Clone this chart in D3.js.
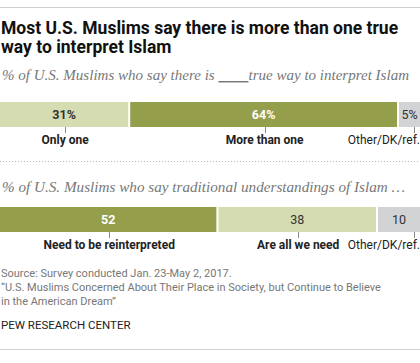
<!DOCTYPE html>
<html>
<head>
<meta charset="utf-8">
<script src="https://d3js.org/d3.v7.min.js"></script>
<style>
  body { margin: 0; background: #fff; }
  svg { display: block; }
</style>
</head>
<body>
<div id="chart"></div>
<script>
// Chart data
const trueWayCats = ['Only one', 'More than one', 'Other/DK/ref.'];
const trueWayVals = [31, 64, 5];
const tradCats = ['Need to be reinterpreted', 'Are all we need', 'Other/DK/ref.'];
const tradVals = [52, 38, 10];

const width = 420, height = 363;
const colors = { light: '#d6dcb1', dark: '#959e4b', gray: '#d2d3d5' };

const svg = d3.select('#chart').append('svg')
    .attr('width', width)
    .attr('height', height);

// top rule
svg.append('line').attr('x1', 0).attr('x2', width).attr('y1', 7.5).attr('y2', 7.5)
    .attr('stroke', '#cfcfcf').attr('stroke-width', 1);

// title
const title = svg.append('text')
    .attr('font-family', 'Roboto, sans-serif')
    .attr('font-weight', 'bold')
    .attr('font-size', 17.5)
    .attr('fill', '#111');
title.append('tspan').attr('x', 1).attr('y', 34).text('Most U.S. Muslims say there is more than one true');
title.append('tspan').attr('x', 1).attr('y', 53).text('way to interpret Islam');

const x = d3.scaleLinear().domain([0, 100]).range([0, width]);

function drawGroup(opts) {
    const g = svg.append('g');

    // subtitle
    const sub = g.append('text')
        .attr('x', 2).attr('y', opts.subY)
        .attr('font-family', '"Liberation Serif", serif')
        .attr('font-style', 'italic')
        .attr('font-size', 14.5)
        .attr('fill', '#777')
        .attr('textLength', opts.subWidth)
        .attr('lengthAdjust', 'spacingAndGlyphs');
    opts.subtitle.forEach(s => {
        const t = sub.append('tspan').text(s.text);
        if (s.underline) t.attr('text-decoration', 'underline');
    });

    // stack the values
    let acc = 0;
    const segs = opts.vals.map((v, i) => {
        const s = { start: acc, end: acc + v, val: v, cat: opts.cats[i], color: opts.colors[i], text: opts.textColors[i], bold: opts.bold[i] };
        acc += v;
        return s;
    });

    g.selectAll('rect.seg')
        .data(segs)
        .enter().append('rect')
        .attr('class', 'seg')
        .attr('x', d => x(d.start))
        .attr('y', opts.barY)
        .attr('width', (d, i) => x(d.end) - x(d.start) - (i < segs.length - 1 ? 2 : 0))
        .attr('height', 25)
        .attr('fill', d => d.color);

    g.selectAll('text.val')
        .data(segs)
        .enter().append('text')
        .attr('class', 'val')
        .attr('x', (d, i) => (x(d.start) + x(d.end) - (i < segs.length - 1 ? 2 : 0)) / 2)
        .attr('y', opts.barY + 17)
        .attr('text-anchor', 'middle')
        .attr('font-family', 'Roboto, sans-serif')
        .attr('font-size', 12.5)
        .attr('font-weight', d => d.bold ? 'bold' : 'normal')
        .attr('fill', d => d.text)
        .text(d => d.val + opts.suffix);

    // ticks and category labels
    const tickX = (d, i) => i === segs.length - 1 ? 414.5 : Math.round((x(d.start) + x(d.end)) / 2) + 0.5;
    g.selectAll('line.tick')
        .data(segs)
        .enter().append('line')
        .attr('class', 'tick')
        .attr('x1', tickX).attr('x2', tickX)
        .attr('y1', opts.barY + 25).attr('y2', opts.barY + 31)
        .attr('stroke', '#888').attr('stroke-width', 1);

    g.selectAll('text.cat')
        .data(segs)
        .enter().append('text')
        .attr('class', 'cat')
        .attr('x', (d, i) => i === segs.length - 1 ? width : (x(d.start) + x(d.end)) / 2)
        .attr('y', opts.barY + 42)
        .attr('text-anchor', (d, i) => i === segs.length - 1 ? 'end' : 'middle')
        .attr('font-family', 'Roboto, sans-serif')
        .attr('font-size', 12)
        .attr('font-weight', (d, i) => i === segs.length - 1 ? 'normal' : 'bold')
        .attr('fill', '#222')
        .text(d => d.cat);
}

drawGroup({
    subY: 80,
    subWidth: 407,
    subtitle: [{ text: '% of U.S. Muslims who say there is ' }, { text: '\u00a0\u00a0\u00a0\u00a0\u00a0\u00a0\u00a0\u00a0', underline: true }, { text: 'true way to interpret Islam' }],
    barY: 102,
    cats: trueWayCats,
    vals: trueWayVals,
    colors: [colors.light, colors.dark, colors.gray],
    textColors: ['#333', '#fff', '#333'],
    bold: [true, true, false],
    suffix: '%'
});

// dotted separator
svg.append('line').attr('x1', 0).attr('x2', width).attr('y1', 161.5).attr('y2', 161.5)
    .attr('stroke', '#bbb').attr('stroke-width', 1).attr('stroke-dasharray', '1,2');

drawGroup({
    subY: 192,
    subWidth: 403,
    subtitle: [{ text: '% of U.S. Muslims who say traditional understandings of Islam \u2026' }],
    barY: 207,
    cats: tradCats,
    vals: tradVals,
    colors: [colors.dark, colors.light, colors.gray],
    textColors: ['#fff', '#333', '#333'],
    bold: [true, false, false],
    suffix: ''
});

// footer
const foot = svg.append('text')
    .attr('font-family', 'Roboto, sans-serif')
    .attr('font-size', 11)
    .attr('fill', '#777');
foot.append('tspan').attr('x', 1).attr('y', 277).text('Source: Survey conducted Jan. 23-May 2, 2017.');
foot.append('tspan').attr('x', 1).attr('y', 291).text('\u201cU.S. Muslims Concerned About Their Place in Society, but Continue to Believe');
foot.append('tspan').attr('x', 1).attr('y', 305).text('in the American Dream\u201d');

svg.append('text')
    .attr('x', 1).attr('y', 329)
    .attr('font-family', 'Roboto, sans-serif')
    .attr('font-size', 11.5)
    .attr('fill', '#222')
    .text('PEW RESEARCH CENTER');

svg.append('line').attr('x1', 0).attr('x2', width).attr('y1', 349.5).attr('y2', 349.5)
    .attr('stroke', '#cfcfcf').attr('stroke-width', 1);
</script>
</body>
</html>
